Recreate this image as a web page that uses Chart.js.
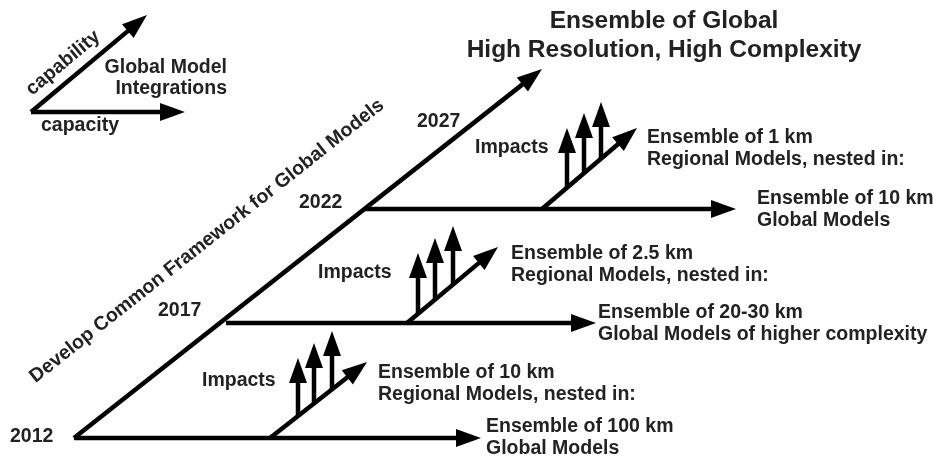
<!DOCTYPE html>
<html>
<head>
<meta charset="utf-8">
<script src="https://cdn.jsdelivr.net/npm/chart.js@4/dist/chart.umd.min.js"></script>
<style>
  body { margin: 0; background: #fff; }
  #wrap { width: 933px; height: 456px; position: relative; }
</style>
</head>
<body>
<div id="wrap"><canvas id="diagram"></canvas></div>
<script>
// diagram units: x to the right, y downwards, same range as the picture
var years = ['2012', '2017', '2022', '2027'];
var yearX = [10, 158, 299, 417];
var yearY = [442, 316, 208, 127];

// main "capability" trunk
var trunkX = [74, 542];
var trunkY = [438, 69];

// global model arrows (horizontal)
var globalStartX = [74, 226, 365];
var globalEndX = [481, 596, 736];
var globalY = [438, 323, 209];
var globalText = [
  ['Ensemble of 100 km', 'Global Models'],
  ['Ensemble of 20-30 km', 'Global Models of higher complexity'],
  ['Ensemble of 10 km', 'Global Models']
];
var globalTextX = [486, 598, 757];
var globalTextY = [432, 318, 204];

// regional model arrows (diagonal)
var regionalStartX = [270, 407, 542];
var regionalStartY = [438, 323, 209];
var regionalEndX = [367, 498, 637];
var regionalEndY = [362, 247, 128];
var regionalText = [
  ['Ensemble of 10 km', 'Regional Models, nested in:'],
  ['Ensemble of 2.5 km', 'Regional Models, nested in:'],
  ['Ensemble of 1 km', 'Regional Models, nested in:']
];
var regionalTextX = [378, 511, 647];
var regionalTextY = [378, 259, 143];

// impact arrows (vertical)
var impactX = [[298, 314, 332], [418, 435, 453], [567, 584, 601]];
var impactBaseY = [[416, 403, 389], [314, 300, 285], [188, 173, 159]];
var impactTopY = [[358, 343, 331], [253, 238, 226], [128, 113, 102]];
var impactTextX = [202, 318, 475];
var impactTextY = [386, 278, 153];

// key in the top left corner
var keyOrigin = [31, 112];
var capabilityTip = [147, 15];
var capacityTip = [185, 112];

var HEAD_LEN = 25;
var HEAD_HALF = 9;
var INK = '#000';
var TEXT = '#222';
var FONT = '"Liberation Sans", Arial, sans-serif';

function arrow(x0, y0, x1, y1) {
  return {
    data: [{x: x0, y: y0}, {x: x1, y: y1}],
    showLine: true,
    borderColor: INK,
    borderWidth: 4.5,
    borderCapStyle: 'butt',
    pointRadius: 0,
    arrow: true
  };
}

var datasets = [];
datasets.push(arrow(trunkX[0], trunkY[0], trunkX[1], trunkY[1]));
for (var i = 0; i < 3; i++) {
  datasets.push(arrow(globalStartX[i], globalY[i], globalEndX[i], globalY[i]));
  datasets.push(arrow(regionalStartX[i], regionalStartY[i], regionalEndX[i], regionalEndY[i]));
  for (var j = 0; j < 3; j++) {
    datasets.push(arrow(impactX[i][j], impactBaseY[i][j], impactX[i][j], impactTopY[i][j]));
  }
}
datasets.push(arrow(keyOrigin[0], keyOrigin[1], capabilityTip[0], capabilityTip[1]));
datasets.push(arrow(keyOrigin[0], keyOrigin[1], capacityTip[0], capacityTip[1]));

// labels: text, x, y, align, size, angle (deg), baseline
var labels = [];
labels.push(['Ensemble of Global', 664, 28, 'center', 24.5, 0, 'alphabetic']);
labels.push(['High Resolution, High Complexity', 664, 57, 'center', 24.5, 0, 'alphabetic']);
labels.push(['Global Model', 227, 73, 'right', 19.5, 0, 'alphabetic']);
labels.push(['Integrations', 227, 94, 'right', 19.5, 0, 'alphabetic']);
labels.push(['capacity', 41, 131, 'left', 19.5, 0, 'alphabetic']);
labels.push(['capability', 63, 63, 'center', 19.5, -39.8, 'middle']);
labels.push(['Develop Common Framework for Global Models', 207, 241, 'center', 19.5, -38.3, 'middle']);
for (var k = 0; k < years.length; k++) {
  labels.push([years[k], yearX[k], yearY[k], 'left', 19.5, 0, 'alphabetic']);
}
for (var m = 0; m < 3; m++) {
  labels.push(['Impacts', impactTextX[m], impactTextY[m], 'left', 19.5, 0, 'alphabetic']);
  labels.push([globalText[m][0], globalTextX[m], globalTextY[m], 'left', 19.5, 0, 'alphabetic']);
  labels.push([globalText[m][1], globalTextX[m], globalTextY[m] + 21.5, 'left', 19.5, 0, 'alphabetic']);
  labels.push([regionalText[m][0], regionalTextX[m], regionalTextY[m], 'left', 19.5, 0, 'alphabetic']);
  labels.push([regionalText[m][1], regionalTextX[m], regionalTextY[m] + 21.5, 'left', 19.5, 0, 'alphabetic']);
}

// shorten each shaft so the head has a clean point, then draw the head
var arrowHeads = {
  id: 'arrowHeads',
  beforeDatasetDraw: function (chart, args) {
    if (!chart.data.datasets[args.index].arrow) return;
    var a = args.meta.data[0], b = args.meta.data[1];
    var dx = b.x - a.x, dy = b.y - a.y, len = Math.hypot(dx, dy);
    args.meta.tip = {x: b.x, y: b.y};
    b.x -= dx / len * (HEAD_LEN - 3);
    b.y -= dy / len * (HEAD_LEN - 3);
  },
  afterDatasetDraw: function (chart, args) {
    var tip = args.meta.tip;
    if (!tip) return;
    var a = args.meta.data[0], b = args.meta.data[1];
    b.x = tip.x; b.y = tip.y;
    var dx = b.x - a.x, dy = b.y - a.y, len = Math.hypot(dx, dy);
    var ux = dx / len, uy = dy / len;
    var bx = tip.x - ux * HEAD_LEN, by = tip.y - uy * HEAD_LEN;
    var ctx = chart.ctx;
    ctx.save();
    ctx.fillStyle = INK;
    ctx.beginPath();
    ctx.moveTo(tip.x, tip.y);
    ctx.lineTo(bx - uy * HEAD_HALF, by + ux * HEAD_HALF);
    ctx.lineTo(bx + uy * HEAD_HALF, by - ux * HEAD_HALF);
    ctx.closePath();
    ctx.fill();
    ctx.restore();
  }
};

var diagramText = {
  id: 'diagramText',
  afterDraw: function (chart) {
    var ctx = chart.ctx, sx = chart.scales.x, sy = chart.scales.y;
    labels.forEach(function (l) {
      ctx.save();
      ctx.translate(sx.getPixelForValue(l[1]), sy.getPixelForValue(l[2]));
      ctx.rotate(l[5] * Math.PI / 180);
      ctx.font = 'bold ' + l[4] + 'px ' + FONT;
      ctx.fillStyle = TEXT;
      ctx.textAlign = l[3];
      ctx.textBaseline = l[6];
      ctx.fillText(l[0], 0, 0);
      ctx.restore();
    });
  }
};

var ctx = document.getElementById('diagram').getContext('2d');
var diagram = new Chart(ctx, {
  type: 'scatter',
  data: { datasets: datasets },
  options: {
    responsive: true,
    maintainAspectRatio: false,
    animation: false,
    events: [],
    layout: { padding: 0 },
    scales: {
      x: { type: 'linear', min: 0, max: 933, display: false },
      y: { type: 'linear', min: 0, max: 456, reverse: true, display: false }
    },
    plugins: {
      legend: { display: false },
      tooltip: { enabled: false }
    }
  },
  plugins: [arrowHeads, diagramText]
});
</script>
</body>
</html>
